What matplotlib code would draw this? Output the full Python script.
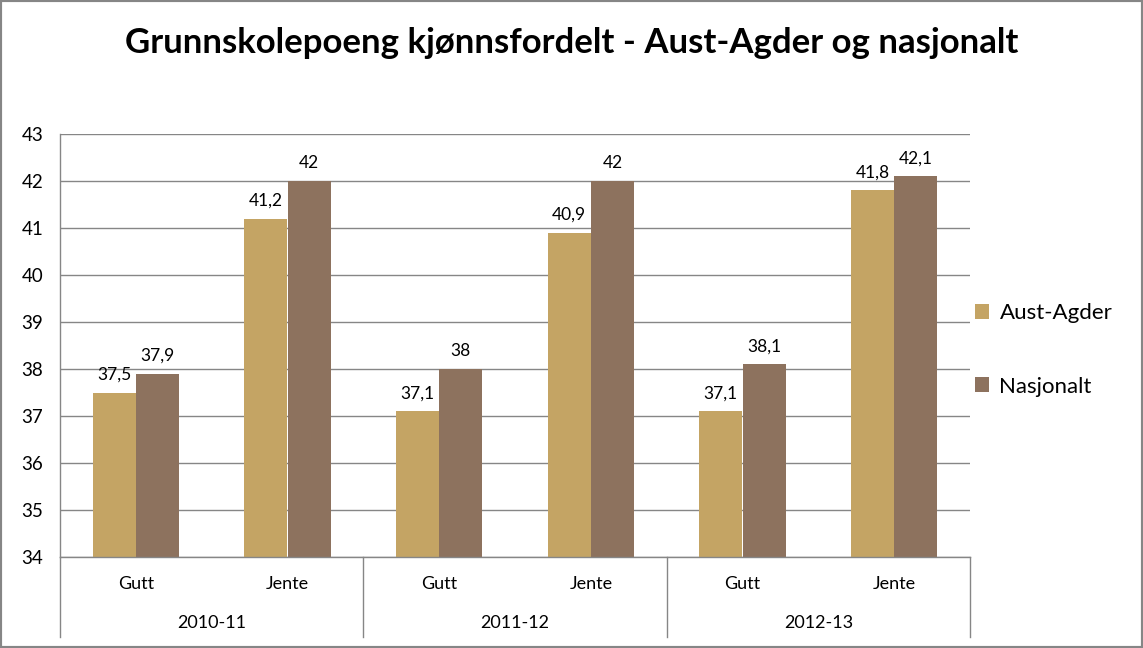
import numpy as np
import matplotlib.pyplot as plt
from matplotlib.patches import Rectangle

years = ['2010-11', '2011-12', '2012-13']
genders = ['Gutt', 'Jente']
aust_agder = [37.5, 41.2, 37.1, 40.9, 37.1, 41.8]
nasjonalt = [37.9, 42.0, 38.0, 42.0, 38.1, 42.1]
series_names = ['Aust-Agder', 'Nasjonalt']
colors = ['#C4A464', '#8D725E']

plt.rcParams['font.family'] = ['Lato', 'DejaVu Sans']

W, H = 1143, 648
fig = plt.figure(figsize=(W / 100, H / 100), dpi=100)
fig.patch.set_facecolor('white')
fig.add_artist(Rectangle((0, 0), 1, 1, transform=fig.transFigure, fill=False,
                         edgecolor='#868686', linewidth=3))

ax = fig.add_axes([60 / W, (H - 557) / H, 910 / W, 423 / H])
x = np.arange(len(aust_agder))
bw = 0.2857
b1 = ax.bar(x - bw / 2, aust_agder, bw, color=colors[0], label=series_names[0], zorder=2)
b2 = ax.bar(x + bw / 2, nasjonalt, bw, color=colors[1], label=series_names[1], zorder=2)

def fmt(v):
    return f'{v:g}'.replace('.', ',')

for bars, vals in ((b1, aust_agder), (b2, nasjonalt)):
    for r, v in zip(bars, vals):
        ax.annotate(fmt(v), (r.get_x() + r.get_width() / 2, v), xytext=(0, 7),
                    textcoords='offset points', ha='center', va='bottom', fontsize=12.5)

ax.set_ylim(34, 43)
ax.set_xlim(-0.5, len(x) - 0.5)
ax.set_yticks(range(34, 44))
ax.tick_params(axis='y', length=0, labelsize=13.5, pad=12)
ax.set_xticks([])
ax.yaxis.grid(True, color='#868686', linewidth=1, zorder=0)
for s in ['top', 'right']:
    ax.spines[s].set_visible(False)
for s in ['left', 'bottom']:
    ax.spines[s].set_color('#868686')
    ax.spines[s].set_linewidth(1)

# category labels
trans = ax.get_xaxis_transform()
for i in x:
    ax.text(i, -0.063, genders[i % 2], transform=trans, ha='center', va='center', fontsize=13)
for j, yr in enumerate(years):
    ax.text(2 * j + 0.5, -0.157, yr, transform=trans, ha='center', va='center', fontsize=13)
for sep in [-0.5, 1.5, 3.5, 5.5]:
    ax.plot([sep, sep], [0, -0.189], transform=trans, color='#868686', linewidth=1, clip_on=False)

fig.text(0.5, (H - 43) / H, 'Grunnskolepoeng kjønnsfordelt - Aust-Agder og nasjonalt',
         ha='center', va='center', fontsize=25, fontweight='bold')

fig.legend(loc='center left', bbox_to_anchor=(955 / W, (H - 350) / H), frameon=False,
           fontsize=16, handlelength=0.65, handleheight=0.65, labelspacing=2.4, handletextpad=0.45)

fig.savefig('out.png', dpi=100)
